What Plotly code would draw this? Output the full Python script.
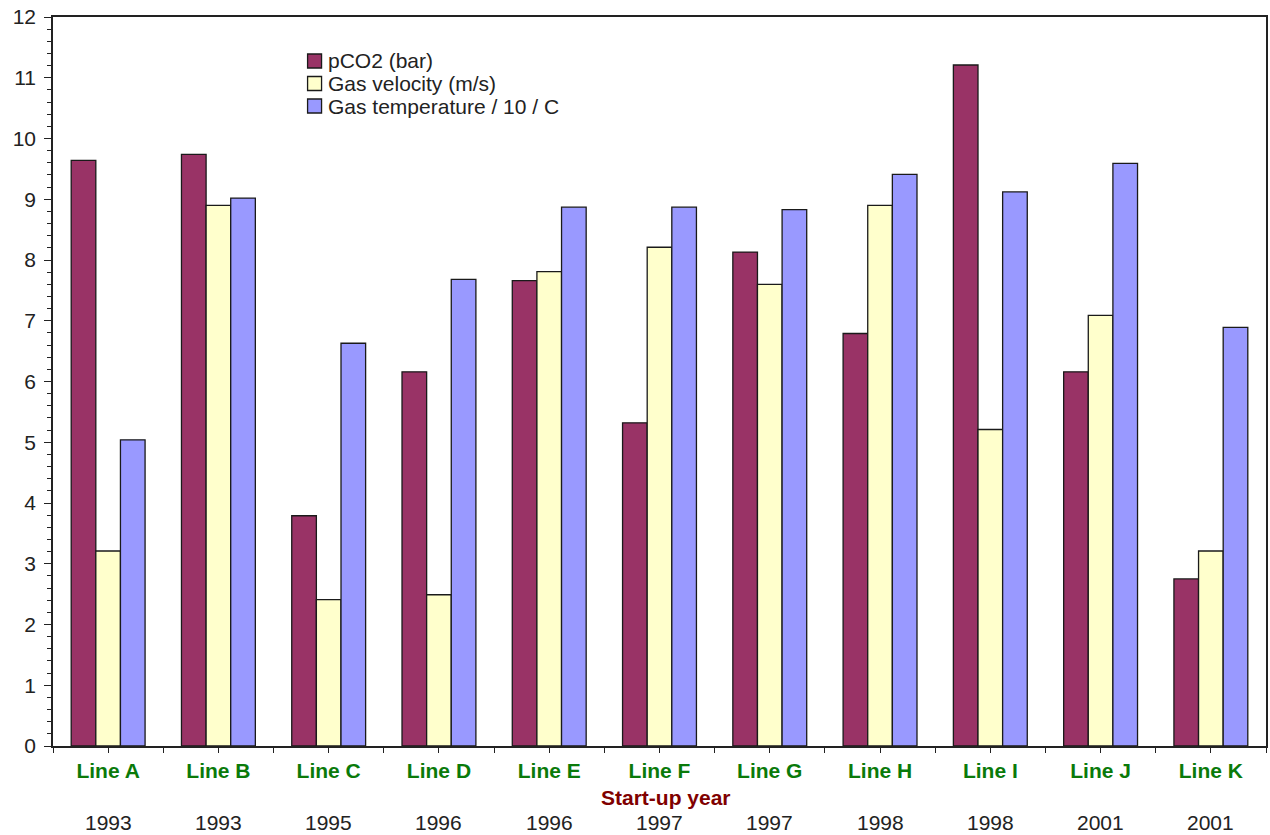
import plotly.graph_objects as go

# Pipeline lines, start-up years and measured conditions
lines = ["Line A", "Line B", "Line C", "Line D", "Line E", "Line F",
         "Line G", "Line H", "Line I", "Line J", "Line K"]
years = ["1993", "1993", "1995", "1996", "1996", "1997",
         "1997", "1998", "1998", "2001", "2001"]
pco2 = [9.64, 9.74, 3.79, 6.16, 7.66, 5.32, 8.13, 6.79, 11.21, 6.16, 2.75]
gas_velocity = [3.21, 8.90, 2.41, 2.49, 7.81, 8.21, 7.60, 8.90, 5.21, 7.09, 3.21]
gas_temp_div10 = [5.04, 9.02, 6.63, 7.68, 8.87, 8.87, 8.83, 9.41, 9.12, 9.59, 6.89]

series_names = ["pCO2 (bar)", "Gas velocity (m/s)", "Gas temperature / 10 / C"]
series_values = [pco2, gas_velocity, gas_temp_div10]
series_colors = ["#993366", "#FFFFCC", "#9999FF"]

W, H = 1270, 835
M_L, M_R, M_T, M_B = 53, 2, 17, 89
PLOT_W = W - M_L - M_R
PLOT_H = H - M_T - M_B

font_family = "Liberation Sans, Arial, sans-serif"
outline = "#1a1a1a"

xpos = list(range(len(lines)))

fig = go.Figure()
for name, vals, color in zip(series_names, series_values, series_colors):
    fig.add_trace(go.Bar(
        x=xpos, y=vals, name=name, showlegend=False,
        marker=dict(color=color, line=dict(color=outline, width=1.3)),
    ))

# ticks at category centres and boundaries; labels only at centres
tickvals = [i / 2 - 0.5 for i in range(2 * len(lines) + 1)]
ticktext = []
for v in tickvals:
    if v == int(v) and v >= 0:
        ticktext.append("<b>%s</b>" % lines[int(v)])
    else:
        ticktext.append("")

fig.update_layout(
    width=W, height=H,
    margin=dict(l=M_L, r=M_R, t=M_T, b=M_B),
    paper_bgcolor="white", plot_bgcolor="white",
    barmode="group", bargap=0.33, bargroupgap=0,
    font=dict(family=font_family, color="#222222"),
    showlegend=False,
    xaxis=dict(
        range=[-0.5, len(lines) - 0.5],
        tickmode="array", tickvals=tickvals, ticktext=ticktext,
        tickfont=dict(size=21, color="#0a7a0a"),
        ticks="outside", ticklen=5, tickcolor="#222222", tickwidth=1,
        showline=True, linecolor="#222222", linewidth=1.5, mirror=True,
        showgrid=False, zeroline=False,
    ),
    yaxis=dict(
        range=[0, 12], dtick=1, tick0=0,
        tickfont=dict(size=21, color="#222222"),
        ticks="outside", ticklen=7, tickcolor="#222222", tickwidth=1,
        ticklabelstandoff=4,
        minor=dict(dtick=0.2, ticks="outside", ticklen=4,
                   tickcolor="#222222", showgrid=False),
        showline=True, linecolor="#222222", linewidth=1.5, mirror=True,
        showgrid=False, zeroline=False,
    ),
)

# start-up year row beneath the line names
for i, yr in enumerate(years):
    fig.add_annotation(
        x=i, y=0, xref="x", yref="paper", yshift=-76,
        text=yr, showarrow=False, yanchor="middle",
        font=dict(size=21, color="#222222", family=font_family),
    )

fig.add_annotation(
    x=0.505, y=0, xref="paper", yref="paper", yshift=-51,
    text="<b>Start-up year</b>", showarrow=False, yanchor="middle",
    font=dict(size=21, color="#800000", family=font_family),
)

# legend: coloured squares with the series names beside them
def px_x(px):
    return (px - M_L) / PLOT_W

def px_y(py):
    return (H - M_B - py) / PLOT_H

legend_left, legend_top, row_step, box = 308, 61, 22.5, 14
for k, (name, color) in enumerate(zip(series_names, series_colors)):
    cy = legend_top + k * row_step
    fig.add_shape(
        type="rect", xref="paper", yref="paper",
        x0=px_x(legend_left), x1=px_x(legend_left + box),
        y0=px_y(cy + box / 2), y1=px_y(cy - box / 2),
        fillcolor=color, line=dict(color=outline, width=1.3),
    )
    fig.add_annotation(
        x=px_x(legend_left + box + 4), y=px_y(cy), xref="paper", yref="paper",
        text=name, showarrow=False, xanchor="left", yanchor="middle",
        font=dict(size=21, color="#222222", family=font_family),
    )

fig.write_html("out.html")
